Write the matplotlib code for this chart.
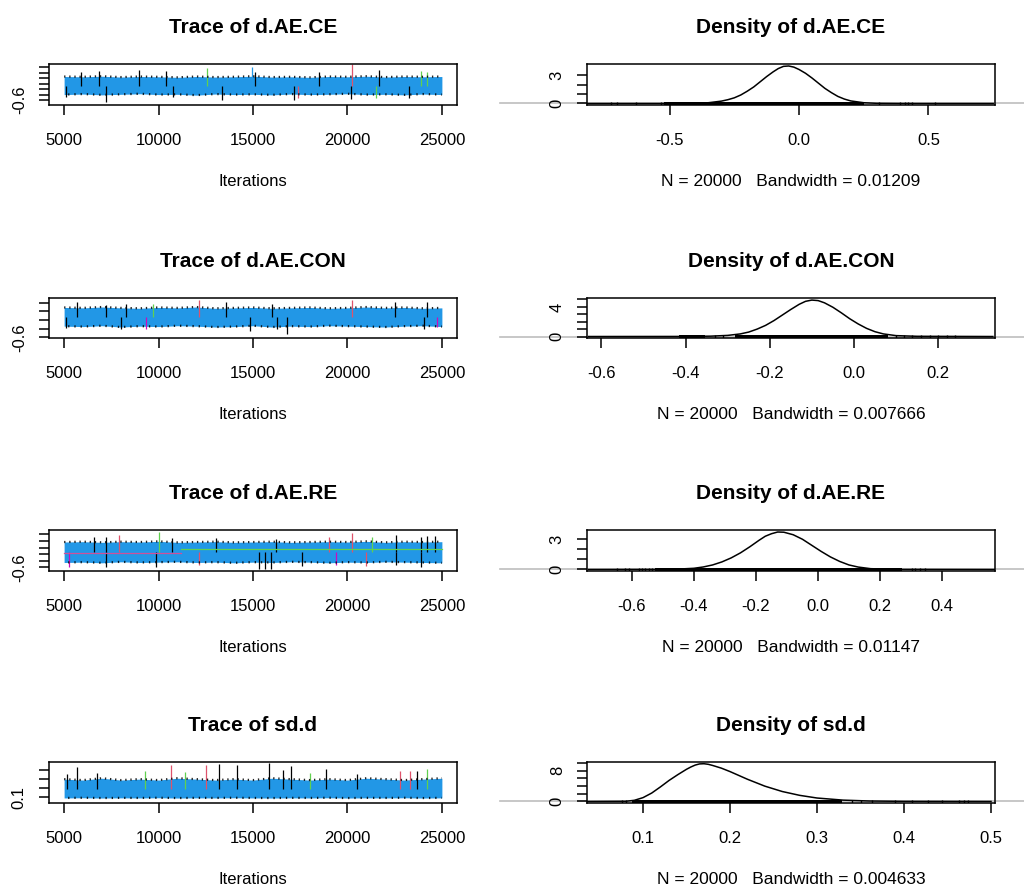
import matplotlib
matplotlib.use("Agg")
from matplotlib import pyplot as plt
from matplotlib import transforms

plt.rcParams["font.family"] = ["Liberation Sans", "DejaVu Sans"]

# ---- data ----
params = ["d.AE.CE", "d.AE.CON", "d.AE.RE", "sd.d"]
bandwidths = ["0.01209", "0.007666", "0.01147", "0.004633"]
n_draws = 20000

# iteration checkpoints where the edges of the (blue) trace band were read
band_it = [5000, 6000, 7000, 8000, 9000, 10000, 11000, 12000, 13000, 14000, 15000,
           16000, 17000, 18000, 19000, 20000, 21000, 22000, 23000, 24000, 25000]

band_hi_ce = [0.26, 0.25, 0.27, 0.24, 0.26, 0.25, 0.23, 0.26, 0.24, 0.25, 0.27,
              0.24, 0.25, 0.23, 0.26, 0.25, 0.27, 0.24, 0.26, 0.25, 0.26]
band_lo_ce = [-0.40, -0.38, -0.41, -0.39, -0.37, -0.40, -0.39, -0.42, -0.38, -0.40, -0.39,
              -0.41, -0.38, -0.40, -0.39, -0.37, -0.40, -0.39, -0.41, -0.38, -0.40]
band_hi_con = [0.09, 0.08, 0.10, 0.08, 0.07, 0.09, 0.08, 0.10, 0.07, 0.08, 0.09,
               0.07, 0.08, 0.09, 0.07, 0.08, 0.10, 0.08, 0.09, 0.07, 0.08]
band_lo_con = [-0.34, -0.35, -0.33, -0.36, -0.34, -0.35, -0.33, -0.34, -0.36, -0.35, -0.33,
               -0.36, -0.34, -0.35, -0.33, -0.34, -0.35, -0.36, -0.34, -0.33, -0.35]
band_hi_re = [0.17, 0.18, 0.16, 0.18, 0.17, 0.19, 0.16, 0.17, 0.18, 0.16, 0.17,
              0.18, 0.16, 0.17, 0.18, 0.17, 0.19, 0.16, 0.18, 0.17, 0.18]
band_lo_re = [-0.45, -0.44, -0.46, -0.43, -0.45, -0.44, -0.43, -0.45, -0.44, -0.46, -0.44,
              -0.45, -0.43, -0.44, -0.46, -0.44, -0.45, -0.43, -0.44, -0.45, -0.46]
band_hi_sd = [0.30, 0.29, 0.31, 0.29, 0.30, 0.29, 0.31, 0.30, 0.29, 0.30, 0.29,
              0.31, 0.30, 0.29, 0.30, 0.29, 0.31, 0.30, 0.29, 0.30, 0.31]
band_lo_sd = [0.095, 0.097, 0.094, 0.096, 0.095, 0.097, 0.094, 0.096, 0.095, 0.097, 0.095,
              0.094, 0.096, 0.095, 0.097, 0.094, 0.096, 0.095, 0.097, 0.094, 0.096]

# single excursions of the chains that stick out of the band
spike_it_ce = [5880, 6850, 8970, 10380, 12580, 14960, 15100, 18490, 20250, 21670, 23870, 24200,
               7200, 13380, 17170, 20170, 17400, 23250, 5090, 21490, 10790]
spike_val_ce = [0.44, 0.47, 0.50, 0.47, 0.56, 0.62, 0.44, 0.44, 0.70, 0.50, 0.46, 0.44,
                -0.66, -0.60, -0.60, -0.57, -0.54, -0.54, -0.50, -0.54, -0.48]
spike_col_ce = ["k", "k", "k", "k", "g", "b", "k", "k", "r", "k", "g", "g",
                "k", "k", "k", "k", "r", "k", "k", "g", "k"]

spike_it_con = [5700, 12140, 13560, 16020, 20250, 22540, 24210, 8260, 9700, 7200,
                16820, 8000, 9350, 14850, 16290, 24030, 5090, 24740]
spike_val_con = [0.21, 0.27, 0.21, 0.16, 0.25, 0.21, 0.21, 0.18, 0.16, 0.14,
                 -0.52, -0.40, -0.40, -0.44, -0.40, -0.40, -0.38, -0.35]
spike_col_con = ["k", "r", "k", "k", "r", "k", "k", "k", "g", "k",
                 "k", "k", "p", "k", "k", "k", "k", "p"]

spike_it_re = [6590, 7910, 7200, 10030, 10730, 19020, 20250, 22550, 23870, 24210, 24630, 13030, 16200, 21290,
               7200, 9850, 12140, 15320, 15610, 15930, 19370, 20960, 23870, 5240, 17570, 22550]
spike_val_re = [0.33, 0.38, 0.31, 0.48, 0.30, 0.33, 0.43, 0.38, 0.33, 0.35, 0.35, 0.30, 0.27, 0.31,
                -0.59, -0.59, -0.53, -0.64, -0.64, -0.64, -0.53, -0.56, -0.59, -0.59, -0.56, -0.53]
spike_col_re = ["k", "r", "k", "g", "k", "r", "r", "k", "k", "k", "k", "k", "k", "g",
                "k", "k", "r", "k", "k", "k", "p", "r", "k", "p", "k", "k"]

spike_it_sd = [5700, 10640, 12500, 13200, 14170, 15850, 17000, 18850, 24210, 22800, 23320, 23700,
               9300, 5130, 6750, 11400, 18000, 16600, 20500]
spike_val_sd = [0.43, 0.45, 0.45, 0.47, 0.45, 0.48, 0.44, 0.41, 0.41, 0.39, 0.39, 0.39,
                0.39, 0.36, 0.37, 0.38, 0.37, 0.40, 0.36]
spike_col_sd = ["k", "r", "r", "k", "k", "k", "k", "k", "g", "r", "r", "k",
                "g", "k", "k", "g", "g", "k", "k"]

# two flat stretches visible inside the d.AE.RE band
re_seg_it = [[5000, 11200], [11200, 25000]]
re_seg_val = [-0.16, -0.055]
re_seg_col = ["#D0509A", "#61D04F"]

# density curves
dens_x_ce = [-0.82, -0.45, -0.40, -0.35, -0.30, -0.275, -0.25, -0.225, -0.20, -0.175, -0.15,
             -0.125, -0.10, -0.08, -0.06, -0.04, -0.02, 0.0, 0.025, 0.05, 0.075, 0.10,
             0.125, 0.15, 0.175, 0.20, 0.25, 0.30, 0.40, 0.75]
dens_y_ce = [0.0, 0.0, 0.02, 0.08, 0.25, 0.4, 0.6, 0.9, 1.3, 1.75, 2.3,
             2.85, 3.35, 3.7, 3.93, 3.97, 3.85, 3.6, 3.2, 2.7, 2.15, 1.6,
             1.15, 0.75, 0.47, 0.27, 0.08, 0.02, 0.0, 0.0]
dens_x_con = [-0.63, -0.40, -0.34, -0.30, -0.27, -0.25, -0.23, -0.21, -0.19, -0.17, -0.15,
              -0.13, -0.115, -0.10, -0.085, -0.07, -0.05, -0.03, -0.01, 0.01, 0.03, 0.05,
              0.07, 0.10, 0.15, 0.33]
dens_y_con = [0.0, 0.01, 0.05, 0.15, 0.35, 0.6, 1.0, 1.5, 2.15, 2.9, 3.65,
              4.35, 4.75, 4.92, 4.85, 4.55, 3.95, 3.2, 2.4, 1.7, 1.1, 0.65,
              0.35, 0.12, 0.03, 0.0]
dens_x_re = [-0.74, -0.50, -0.45, -0.40, -0.37, -0.34, -0.31, -0.28, -0.25, -0.22, -0.19,
             -0.17, -0.15, -0.13, -0.11, -0.08, -0.05, -0.02, 0.01, 0.04, 0.07, 0.10,
             0.13, 0.17, 0.25, 0.57]
dens_y_re = [0.0, 0.01, 0.04, 0.12, 0.25, 0.45, 0.75, 1.15, 1.65, 2.25, 2.9,
             3.3, 3.55, 3.72, 3.7, 3.45, 3.0, 2.4, 1.8, 1.25, 0.8, 0.45,
             0.24, 0.08, 0.01, 0.0]
dens_x_sd = [0.036, 0.08, 0.09, 0.10, 0.11, 0.12, 0.13, 0.14, 0.15, 0.155, 0.16, 0.165,
             0.17, 0.175, 0.18, 0.19, 0.20, 0.21, 0.22, 0.23, 0.24, 0.25, 0.26, 0.28,
             0.30, 0.33, 0.36, 0.40, 0.50]
dens_y_sd = [0.0, 0.05, 0.3, 1.0, 2.2, 3.8, 5.5, 7.0, 8.4, 9.0, 9.5, 9.8,
             9.85, 9.7, 9.4, 8.7, 7.8, 6.8, 5.8, 4.9, 4.0, 3.3, 2.6, 1.6,
             0.9, 0.35, 0.12, 0.03, 0.0]

# rug: dense stretches and isolated ticks
rug_dense_ce = [(-0.52, -0.36), (-0.36, 0.25)]
rug_ticks_ce = [-0.725, -0.705, -0.629, -0.533, -0.521, 0.309, 0.390, 0.409, 0.421, 0.436, 0.525]
rug_dense_con = [(-0.416, -0.354), (-0.283, 0.082)]
rug_ticks_con = [-0.40, -0.38, -0.37, -0.33, -0.31, 0.10, 0.12, 0.138, 0.16, 0.18, 0.20, 0.22, 0.24]
rug_dense_re = [(-0.525, 0.271)]
rug_ticks_re = [-0.648, -0.621, -0.611, -0.578, -0.568, -0.557, -0.546, -0.535,
                0.303, 0.314, 0.330, 0.346]
rug_dense_sd = [(0.087, 0.329)]
rug_ticks_sd = [0.076, 0.081, 0.34, 0.35, 0.363, 0.390, 0.409, 0.428, 0.444, 0.463, 0.469, 0.474]

colors = {"k": "#000000", "r": "#DF536B", "g": "#61D04F", "b": "#2297E6", "p": "#CD0BBC"}
chain_blue = "#2297E6"

rows = [
    dict(hi=band_hi_ce, lo=band_lo_ce, sit=spike_it_ce, sval=spike_val_ce, scol=spike_col_ce,
         ylim=(-0.78, 0.717), yticks=[-0.6, -0.4, -0.2, 0.0, 0.2, 0.4, 0.6], ylab="-0.6",
         dx=dens_x_ce, dy=dens_y_ce, dxlim=(-0.819, 0.757), dxticks=[-0.5, 0.0, 0.5],
         dylim=(-0.16, 4.18), dyticks=[0, 1, 2, 3], dylabs={0: "0", 3: "3"},
         rd=rug_dense_ce, rt=rug_ticks_ce),
    dict(hi=band_hi_con, lo=band_lo_con, sit=spike_it_con, sval=spike_val_con, scol=spike_col_con,
         ylim=(-0.612, 0.307), yticks=[-0.6, -0.4, -0.2, 0.0, 0.2], ylab="-0.6",
         dx=dens_x_con, dy=dens_y_con, dxlim=(-0.634, 0.335), dxticks=[-0.6, -0.4, -0.2, 0.0, 0.2],
         dylim=(-0.2, 5.2), dyticks=[0, 1, 2, 3, 4, 5], dylabs={0: "0", 4: "4"},
         rd=rug_dense_con, rt=rug_ticks_con),
    dict(hi=band_hi_re, lo=band_lo_re, sit=spike_it_re, sval=spike_val_re, scol=spike_col_re,
         ylim=(-0.708, 0.534), yticks=[-0.6, -0.4, -0.2, 0.0, 0.2, 0.4], ylab="-0.6",
         dx=dens_x_re, dy=dens_y_re, dxlim=(-0.745, 0.571), dxticks=[-0.6, -0.4, -0.2, 0.0, 0.2, 0.4],
         dylim=(-0.15, 3.92), dyticks=[0, 1, 2, 3], dylabs={0: "0", 3: "3"},
         rd=rug_dense_re, rt=rug_ticks_re),
    dict(hi=band_hi_sd, lo=band_lo_sd, sit=spike_it_sd, sval=spike_val_sd, scol=spike_col_sd,
         ylim=(0.04, 0.487), yticks=[0.1, 0.2, 0.3, 0.4], ylab="0.1",
         dx=dens_x_sd, dy=dens_y_sd, dxlim=(0.0356, 0.5046), dxticks=[0.1, 0.2, 0.3, 0.4, 0.5],
         dylim=(-0.4, 10.3), dyticks=[0, 2, 4, 6, 8, 10], dylabs={0: "0", 8: "8"},
         rd=rug_dense_sd, rt=rug_ticks_sd),
]

W, H = 1024, 888
fig = plt.figure(figsize=(W / 100, H / 100), dpi=100)
box_tops = [64, 298, 530, 762]
box_h = [41, 40, 41, 41]
LW = 1.1


def style_axes(ax):
    for s in ax.spines.values():
        s.set_linewidth(LW)
    ax.tick_params(direction="out", length=7, width=LW, labelsize=12, pad=13)


for i, (name, bw, r) in enumerate(zip(params, bandwidths, rows)):
    bottom = 1 - (box_tops[i] + box_h[i]) / H
    height = box_h[i] / H

    # ---- trace ----
    ax = fig.add_axes([49 / W, bottom, 408 / W, height])
    style_axes(ax)
    mid = [(a + b) / 2 for a, b in zip(r["hi"], r["lo"])]
    base = sum(mid) / len(mid)
    ax.vlines(r["sit"], base, r["sval"], colors=[colors[c] for c in r["scol"]], lw=0.9)
    # dark speckled fringe along the band edges (other chains peeking out)
    ax.plot(band_it, r["hi"], color="black", lw=1.6, ls=(0, (0.6, 1.7)), alpha=0.85)
    ax.plot(band_it, r["lo"], color="black", lw=1.6, ls=(1, (0.6, 2.2)), alpha=0.85)
    ax.fill_between(band_it, r["lo"], r["hi"], color=chain_blue, lw=0)
    if i == 2:
        for seg, v, c in zip(re_seg_it, re_seg_val, re_seg_col):
            ax.plot(seg, [v, v], color=c, lw=0.9)
    ax.set_xlim(4200, 25800)
    ax.set_ylim(*r["ylim"])
    ax.set_xticks([5000, 10000, 15000, 20000, 25000])
    ax.set_yticks(r["yticks"])
    ax.set_yticklabels([r["ylab"]] + [""] * (len(r["yticks"]) - 1))
    plt.setp(ax.get_yticklabels(), rotation=90, va="center")
    ax.tick_params(axis="y", pad=9)
    ax.set_title("Trace of " + name, fontsize=15, fontweight="bold", pad=22)
    ax.set_xlabel("Iterations", fontsize=12, labelpad=19)

    # ---- density ----
    dax = fig.add_axes([587 / W, bottom, 408 / W, height])
    style_axes(dax)
    tr = transforms.blended_transform_factory(fig.transFigure, dax.transData)
    dax.plot([500 / W, 1.0], [0, 0], color="#BEBEBE", lw=1.2, transform=tr,
             clip_on=False, zorder=0)
    dax.plot(r["dx"], r["dy"], color="black", lw=1.1)
    for lo, hi in r["rd"]:
        dax.axvspan(lo, hi, ymin=0, ymax=0.07, color="black", lw=0)
    dax.vlines(r["rt"], 0, 0.07, transform=dax.get_xaxis_transform(), colors="black", lw=1)
    dax.set_xlim(*r["dxlim"])
    dax.set_ylim(*r["dylim"])
    dax.set_xticks(r["dxticks"])
    dax.set_xticklabels(["%.1f" % t for t in r["dxticks"]])
    dax.set_yticks(r["dyticks"])
    dax.set_yticklabels([r["dylabs"].get(t, "") for t in r["dyticks"]])
    plt.setp(dax.get_yticklabels(), rotation=90, va="center")
    dax.tick_params(axis="y", pad=9)
    dax.set_title("Density of " + name, fontsize=15, fontweight="bold", pad=22)
    dax.set_xlabel("N = %d   Bandwidth = %s" % (n_draws, bw), fontsize=12.5, labelpad=19)

fig.savefig("out.png", dpi=100)
